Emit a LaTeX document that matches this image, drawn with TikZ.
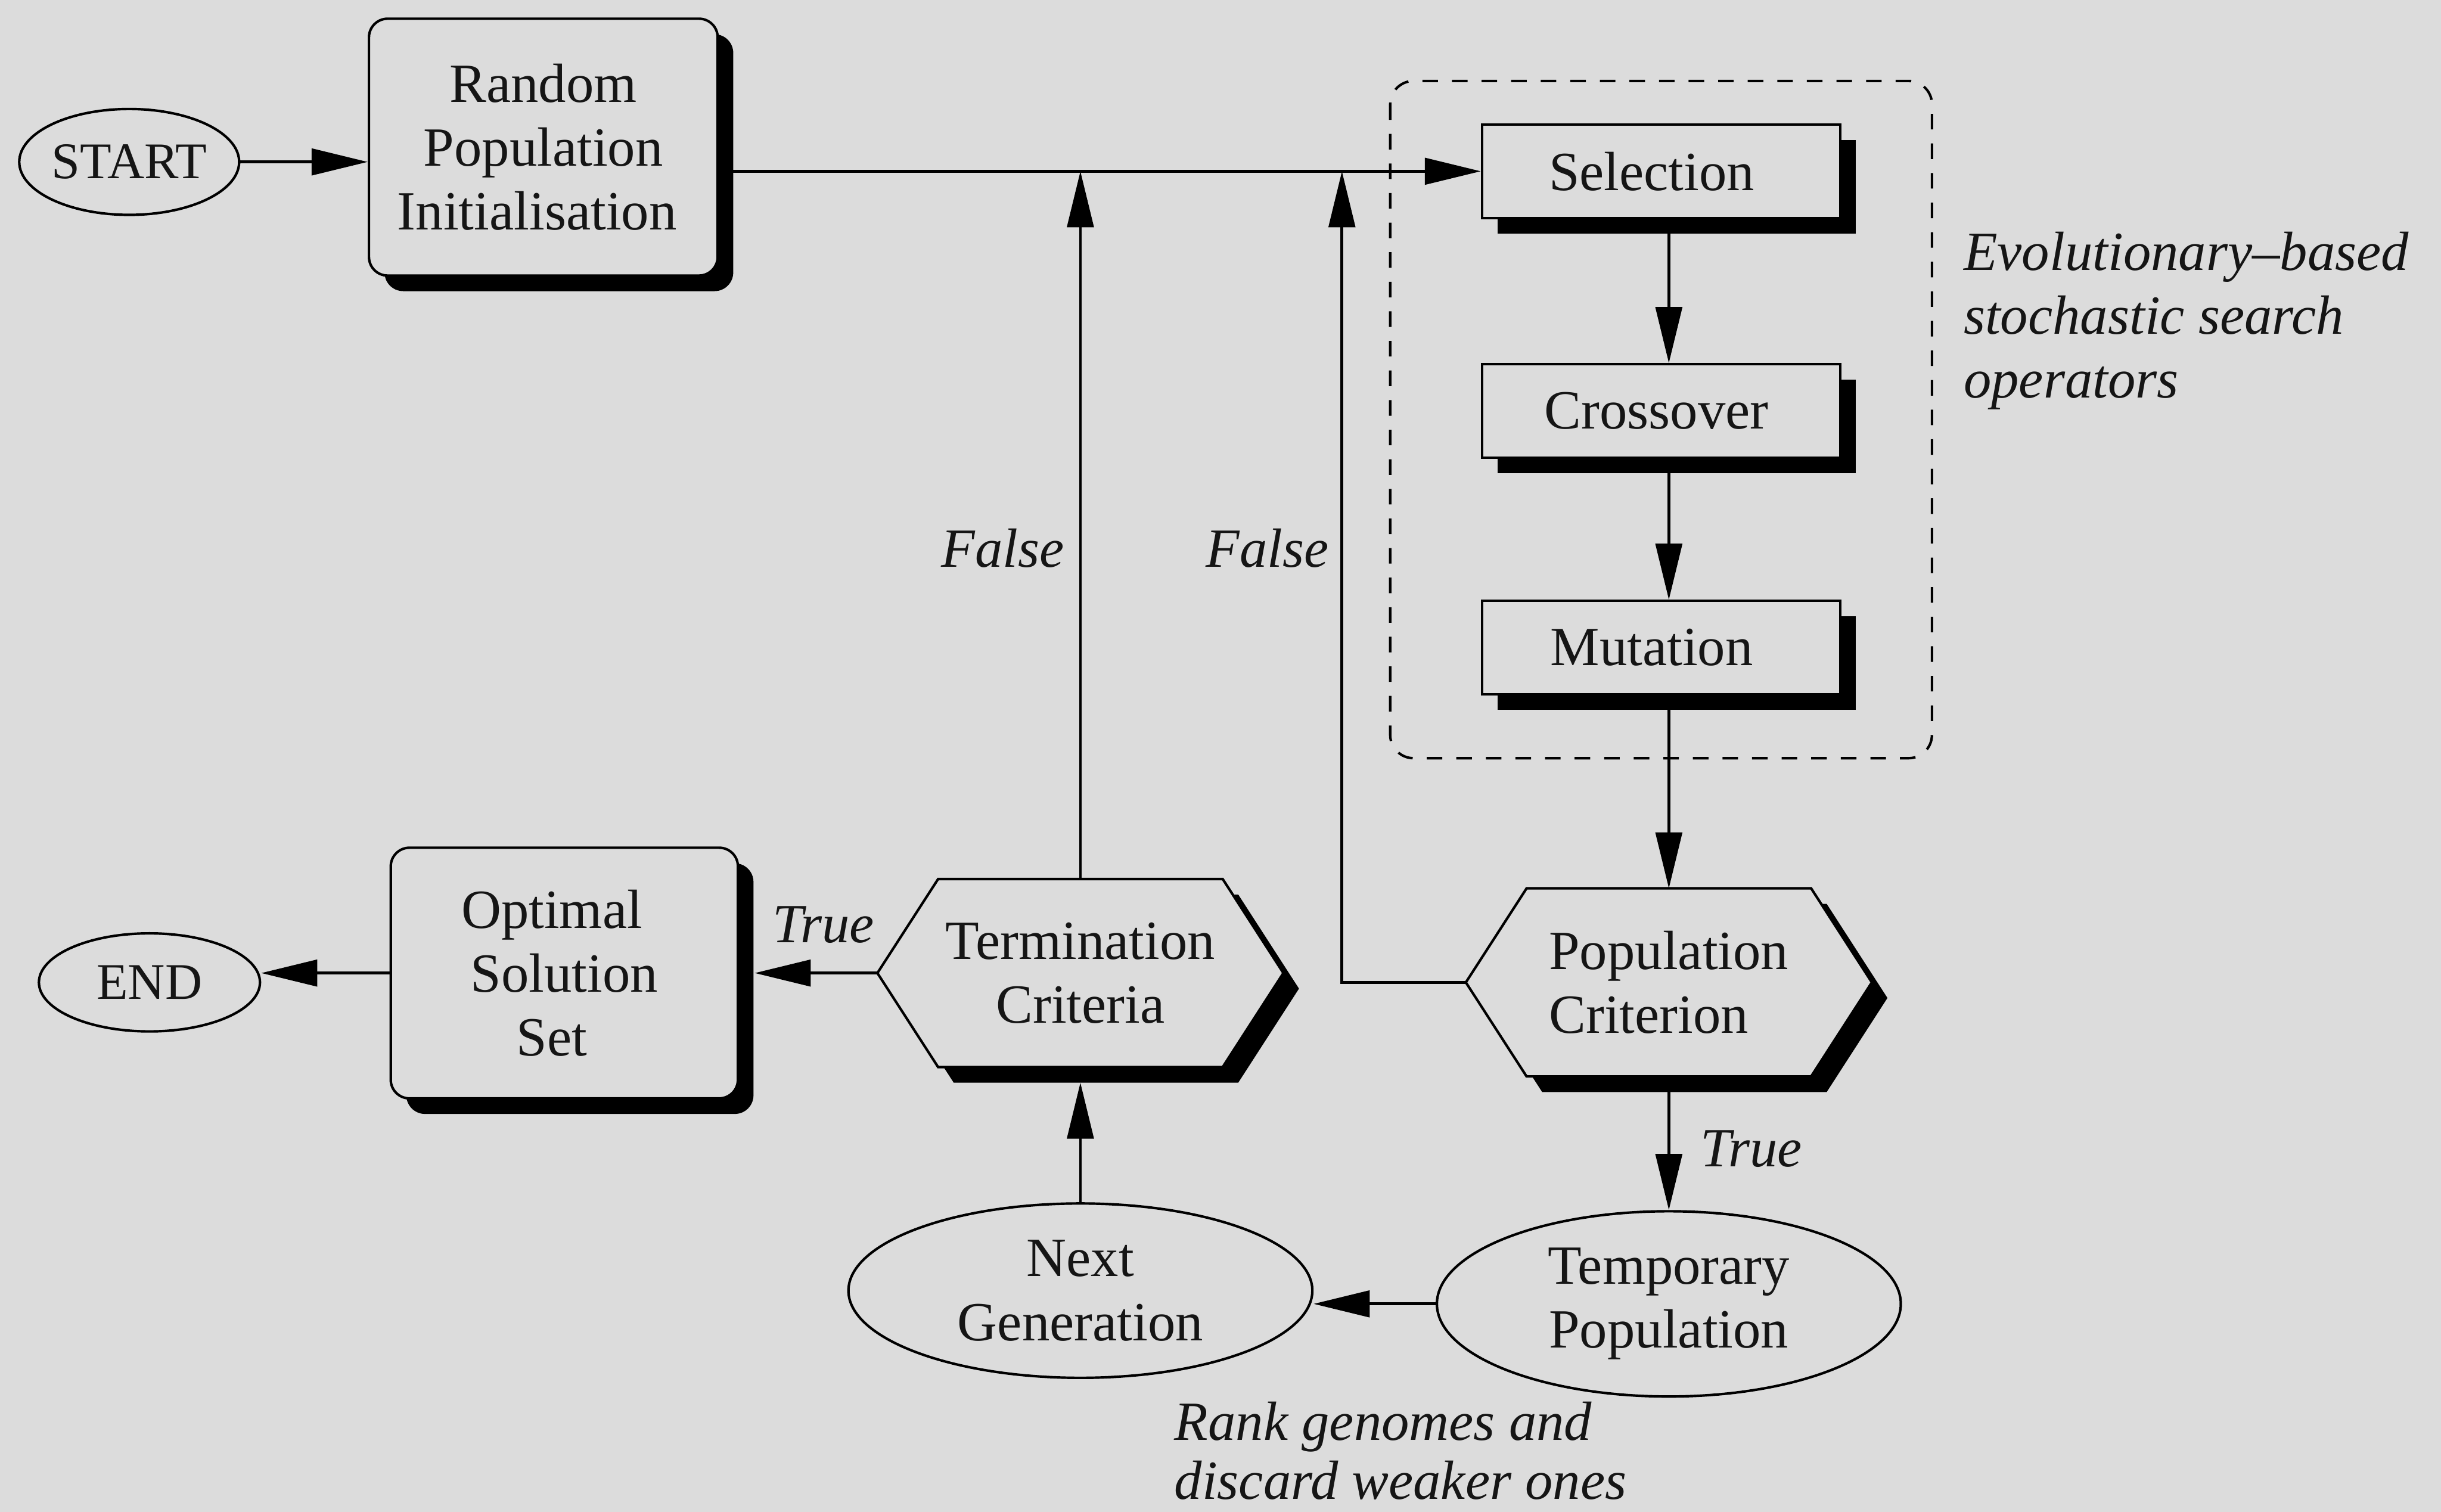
\documentclass[tikz,border=0pt]{standalone}
\usepackage{fontspec}
\setmainfont{Liberation Serif}
\usetikzlibrary{arrows.meta,calc,shadows,shapes.geometric}
\definecolor{bgc}{HTML}{DCDCDC}
\definecolor{ink}{HTML}{151515}
\pgfdeclarelayer{back}\pgfdeclarelayer{under}
\pgfsetlayers{back,under,main}
\newcommand\hexdraw[1]{%
  \fill[black] ($(#1.west)+(10,10)$) -- ($(#1.north west)+(49,10)$) -- ($(#1.north east)+(-29,10)$) -- ($(#1.east)+(10,10)$) -- ($(#1.south east)+(-29,10)$) -- ($(#1.south west)+(49,10)$) -- cycle;
  \filldraw[fill=bgc, draw=black, line width=0.8pt, line join=miter] (#1.west) -- ($(#1.north west)+(39,0)$) -- ($(#1.north east)+(-39,0)$) -- (#1.east) -- ($(#1.south east)+(-39,0)$) -- ($(#1.south west)+(39,0)$) -- cycle;}
\begin{document}
\begin{tikzpicture}[x=0.5pt,y=-0.5pt,
 txt/.style={font=\fontsize{17.75pt}{20.5pt}\selectfont, text=ink},
 base/.style={txt, draw=black, line width=0.8pt, fill=bgc, align=center, inner sep=0pt},
 shadowed/.style={drop shadow={shadow xshift=5pt, shadow yshift=-5pt, opacity=1, fill=black}},
 rbox/.style={base, rectangle, rounded corners=6pt, shadowed},
 sbox/.style={base, rectangle, shadowed, minimum width=115pt, minimum height=30pt},
 oval/.style={base, ellipse},
 hexn/.style={txt, rectangle, draw=none, inner sep=0pt, minimum width=130pt, minimum height=60pt},
 lbl/.style={text=ink, inner sep=0pt, font=\fontsize{17.75pt}{20.5pt}\selectfont\itshape},
 arr/.style={line width=0.9pt, -{Triangle[length=18pt,width=8.5pt]}},
]
\begin{pgfonlayer}{back}
\fill[bgc] (0,0) rectangle (1568,971);
\end{pgfonlayer}
\useasboundingbox (0,0) rectangle (1568,971);

% nodes
\node[oval, minimum width=70.5pt, minimum height=34pt, font=\fontsize{16.5pt}{18pt}\selectfont] (start) at (83,104) {START};
\node[rbox, minimum width=112pt, minimum height=82.5pt] (rand) at (349,94.5) {Random\\Population\\Initialisation\hspace*{4pt}};
\node[sbox] (sel) at (1067,110) {Selection\hspace*{6pt}};
\node[sbox] (cross) at (1067,264) {Crossover\hspace*{3pt}};
\node[sbox] (mut) at (1067,416) {Mutation\hspace*{6pt}};
\node[hexn, align=left] (pop) at (1072,631) {Population\\Criterion};
\node[hexn, align=center] (term) at (694,625) {Termination\\Criteria};
\node[rbox, minimum width=111.5pt, minimum height=80.5pt] (opt) at (362.5,625) {Optimal\hspace*{8pt}\\Solution\hspace*{8pt}\\Set\hspace*{8pt}};
\node[oval, minimum width=71pt, minimum height=31.5pt, font=\fontsize{16.5pt}{18pt}\selectfont] (endn) at (96,631) {END};
\node[oval, minimum width=149pt, minimum height=59.5pt] (temp) at (1072,837.5) {Temporary\\Population};
\node[oval, minimum width=149pt, minimum height=56pt] (next) at (694,829) {Next\\Generation};

\begin{pgfonlayer}{under}
\hexdraw{pop}
\hexdraw{term}
\end{pgfonlayer}

% dashed group
\draw[line width=0.8pt, dash pattern=on 5pt off 4.5pt, rounded corners=7.5pt] (893,52) rectangle (1241,487);

% connectors
\draw[arr] (start.east) -- (start.east -| rand.west);
\draw[arr] (rand.east |- sel.west) -- (sel.west);
\draw[arr] ($(sel.south)+(5,0)$) -- ($(cross.north)+(5,0)$);
\draw[arr] ($(cross.south)+(5,0)$) -- ($(mut.north)+(5,0)$);
\draw[arr] ($(mut.south)+(5,0)$) -- (pop.north);
\draw[arr] (term.north) -- (term.north |- sel.west);
\coordinate (pf) at (862,110);
\draw[arr] (pop.west) -| (pf);
\draw[arr] (pop.south) -- (temp.north);
\draw[arr] (temp.west) -- (temp.west -| next.east);
\draw[arr] (next.north) -- ($(term.south)+(0,10)$);
\draw[arr] (term.west) -- ($(term.west -| opt.east)+(10,0)$);
\draw[arr] (opt.west) -- (opt.west -| endn.east);

% labels
\node[lbl, anchor=east] (f1) at (684,352) {False};
\node[lbl, anchor=east] (f2) at (854,352) {False};
\node[lbl] (t1) at (529,594) {True};
\node[lbl] (t2) at (1125,738) {True};
\node[lbl, anchor=west, align=left] (evo) at (1261,206) {Evolutionary--based\\stochastic search\\operators};
\node[lbl, anchor=west, align=left, font=\fontsize{17.75pt}{19pt}\selectfont\itshape] (rank) at (754,932) {Rank genomes and\\discard weaker ones};
\end{tikzpicture}
\end{document}
